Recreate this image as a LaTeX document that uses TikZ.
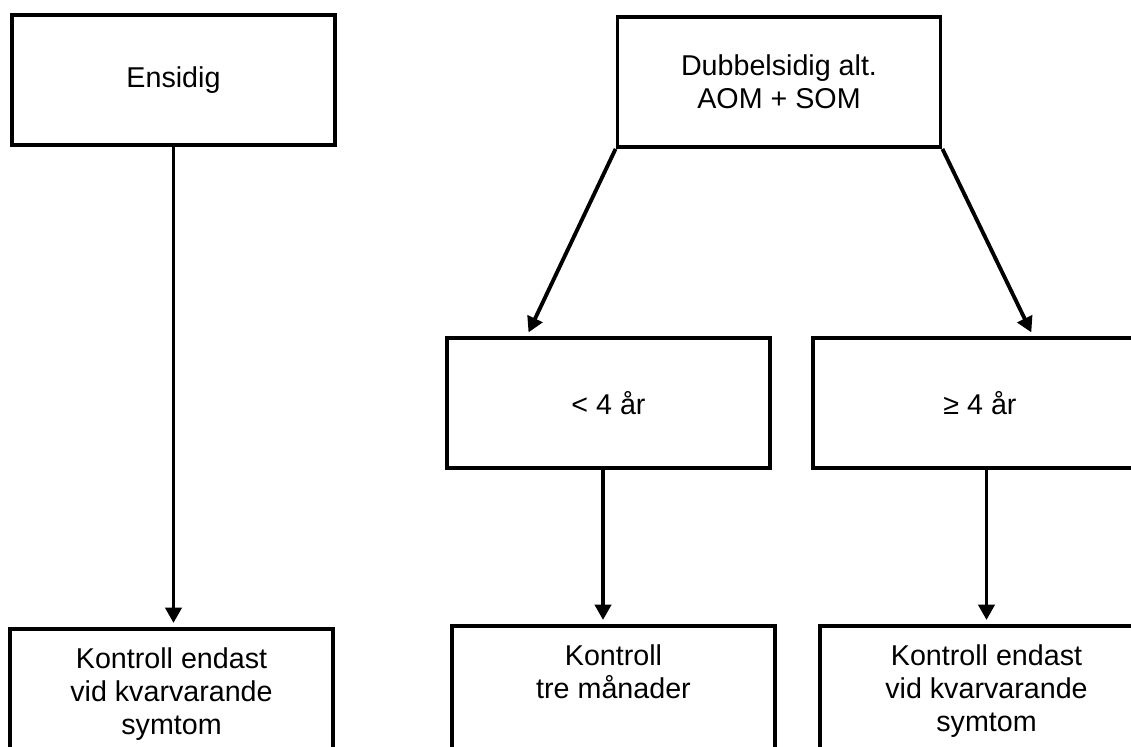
\documentclass[tikz,border=0pt]{standalone}
\usepackage{fontspec}
\setmainfont{Liberation Sans}
\usetikzlibrary{arrows.meta,calc}
% Box whose text hangs from the top edge: width, text
\newcommand\hangtext[2]{\parbox[t][150pt][t]{#1}{\centering\vspace*{14.3pt}#2}}
\begin{document}
\begin{tikzpicture}[x=0.75pt,y=-0.75pt,
  every node/.style={font=\fontsize{21.5pt}{24.6pt}\selectfont},
  box/.style={draw, line width=2.9pt, minimum width=242.25pt, minimum height=97.5pt,
              align=center, inner sep=0pt},
  tallbox/.style={draw, line width=2.9pt, inner sep=0pt, anchor=north},
  arr/.style={line width=2.9pt, -{Triangle[length=11.5pt,width=12pt]}, shorten >=3pt}]
\useasboundingbox (0,0) rectangle (1131,746);
\clip (0,0) rectangle (1131,746);

% top row
\node[box] (ens) at (173.5,80) {Ensidig};
\node[box] (dub) at (779,82) {Dubbelsidig alt.\\AOM + SOM};

% age split
\node[box] (lt4) at (608.5,403) {< 4 år};
\node[box, minimum width=250.5pt] (ge4) at (980,403) {≥ 4 år};

% follow-up boxes
\node[tallbox] (bl) at (171.5,627) {\hangtext{242.25pt}{Kontroll endast\\vid kvarvarande\\symtom}};
\node[tallbox] (bm) at (613.5,624) {\hangtext{242.25pt}{Kontroll\\tre månader}};
\node[tallbox] (br) at (986.5,624) {\hangtext{249.75pt}{Kontroll endast\\vid kvarvarande\\symtom}};

% arrow targets on the age boxes
\coordinate (lt4in) at ($(lt4.north west)!0.25!(lt4.north east)$);
\coordinate (ge4in) at ($(ge4.north west)+(222,0)$);

% connectors
\draw[arr] (ens.south) -- (ens.south |- bl.north);
\draw[arr] (dub.south west) -- (lt4in);
\draw[arr] (dub.south east) -- (ge4in);
\draw[arr] ([xshift=-4.1pt]lt4.south) -- ([xshift=-4.1pt]lt4.south |- bm.north);
\draw[arr] (br.north |- ge4.south) -- (br.north);
\end{tikzpicture}
\end{document}
